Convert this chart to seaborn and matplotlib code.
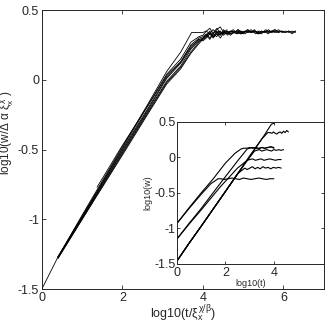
import numpy as np
import matplotlib
matplotlib.use("Agg")
import matplotlib.pyplot as plt
import seaborn as sns

# ---- main panel: rescaled curves (rise knots, then noisy plateau) ----
main_rise_x = [
    [0.0, 0.4, 1.0, 2.0, 2.6, 3.1, 3.45, 3.72, 3.9],
    [0.4, 1.0, 2.0, 2.6, 3.1, 3.45, 3.7, 3.9],
    [0.4, 1.0, 2.0, 2.6, 3.1, 3.45, 3.7, 3.9],
    [0.4, 1.0, 2.0, 2.6, 3.1, 3.45, 3.7, 3.9],
    [0.4, 1.0, 2.0, 2.6, 3.1, 3.45, 3.7, 3.9],
    [0.4, 1.0, 2.0, 2.6, 3.1, 3.45, 3.7, 3.9],
    [0.4, 1.0, 2.0, 2.6, 3.1, 3.45, 3.7, 3.9],
    [1.37, 2.0, 2.6, 3.1, 3.45, 3.7, 3.9],
]
main_rise_y = [
    [-1.5, -1.27, -0.97, -0.48, -0.19, 0.06, 0.20, 0.34, 0.34],
    [-1.27, -0.98, -0.49, -0.20, 0.04, 0.15, 0.27, 0.31],
    [-1.27, -0.98, -0.50, -0.22, 0.02, 0.13, 0.25, 0.30],
    [-1.27, -0.99, -0.51, -0.23, 0.01, 0.12, 0.23, 0.29],
    [-1.27, -0.99, -0.52, -0.24, -0.01, 0.10, 0.22, 0.28],
    [-1.28, -1.00, -0.53, -0.25, -0.02, 0.09, 0.20, 0.27],
    [-1.28, -1.00, -0.54, -0.26, -0.03, 0.08, 0.19, 0.26],
    [-0.77, -0.47, -0.20, 0.03, 0.13, 0.24, 0.29],
]
main_end = [5.0, 4.6, 5.4, 5.8, 6.3, 6.3, 6.0, 6.3]
main_plateau = [
    [0.34, 0.35, 0.33, 0.36, 0.34, 0.35, 0.33, 0.35, 0.34, 0.36, 0.34, 0.35, 0.33],
    [0.32, 0.35, 0.37, 0.33, 0.36, 0.38, 0.34, 0.36],
    [0.31, 0.33, 0.30, 0.34, 0.37, 0.33, 0.35, 0.32, 0.35, 0.34, 0.36, 0.33, 0.35,
     0.34, 0.35, 0.33, 0.35],
    [0.30, 0.32, 0.35, 0.31, 0.34, 0.32, 0.36, 0.33, 0.35, 0.34, 0.33, 0.35, 0.34,
     0.36, 0.34, 0.35, 0.33, 0.35, 0.34, 0.36, 0.34, 0.35],
    [0.29, 0.31, 0.33, 0.30, 0.33, 0.35, 0.32, 0.34, 0.33, 0.35, 0.34, 0.33, 0.35,
     0.34, 0.36, 0.34, 0.35, 0.34, 0.35, 0.33, 0.35, 0.34, 0.36, 0.34, 0.35, 0.34,
     0.35, 0.34],
    [0.30, 0.32, 0.29, 0.33, 0.31, 0.34, 0.33, 0.35, 0.32, 0.34, 0.35, 0.33, 0.34,
     0.35, 0.34, 0.36, 0.33, 0.35, 0.34, 0.35, 0.34, 0.36, 0.34, 0.35, 0.34, 0.35,
     0.33, 0.35],
    [0.29, 0.32, 0.34, 0.31, 0.33, 0.30, 0.34, 0.35, 0.33, 0.34, 0.36, 0.34, 0.33,
     0.35, 0.34, 0.35, 0.33, 0.34, 0.36, 0.34, 0.35, 0.34, 0.35, 0.34],
    [0.28, 0.30, 0.33, 0.31, 0.35, 0.32, 0.34, 0.33, 0.35, 0.34, 0.33, 0.35, 0.34,
     0.36, 0.34, 0.35, 0.34, 0.33, 0.35, 0.34, 0.35, 0.36, 0.34, 0.35, 0.34, 0.35,
     0.34, 0.35],
]

# ---- inset: raw curves (knots, then plateau) ----
inset_rise_x = [
    [0.0, 0.5, 1.0, 1.5, 2.0, 2.4, 2.65],
    [0.0, 0.5, 1.0, 1.4, 1.7],
    [0.0, 0.5, 1.0, 1.8, 2.5, 2.9],
    [0.0, 0.5, 1.0, 1.8, 2.5, 2.9],
    [0.0, 0.5, 1.0, 2.0, 3.0, 3.6, 3.9],
    [0.0, 0.5, 1.0, 2.0, 3.0, 3.5, 3.75],
    [0.0, 0.5, 1.0, 2.0, 2.8, 3.2],
    [0.0, 0.5, 1.0, 2.0, 2.5, 2.8],
]
inset_rise_y = [
    [-0.93, -0.71, -0.50, -0.30, -0.08, 0.06, 0.12],
    [-0.93, -0.72, -0.52, -0.37, -0.30],
    [-1.15, -0.93, -0.72, -0.36, -0.05, 0.12],
    [-1.15, -0.94, -0.74, -0.41, -0.15, -0.04],
    [-1.46, -1.21, -0.97, -0.48, 0.01, 0.31, 0.47],
    [-1.46, -1.21, -0.97, -0.48, 0.02, 0.26, 0.35],
    [-1.46, -1.21, -0.97, -0.48, -0.09, 0.09],
    [-1.46, -1.21, -0.97, -0.48, -0.23, -0.15],
]
inset_end = [4.0, 4.0, 4.0, 4.3, 4.0, 4.6, 4.4, 4.3]
inset_plateau = [
    [0.13, 0.13, 0.14, 0.13, 0.14, 0.13, 0.14, 0.13, 0.14, 0.15, 0.14],
    [-0.30, -0.31, -0.30, -0.29, -0.30, -0.31, -0.29, -0.30, -0.31, -0.30, -0.29,
     -0.30, -0.31, -0.30, -0.30],
    [0.13, 0.14, 0.13, 0.12, 0.14, 0.13, 0.14, 0.15, 0.13],
    [-0.03, -0.02, -0.04, -0.03, -0.02, -0.04, -0.03, -0.02, -0.03, -0.04, -0.03,
     -0.03],
    [0.48, 0.49, 0.50],
    [0.35, 0.34, 0.36, 0.34, 0.33, 0.35, 0.36, 0.34, 0.37, 0.35, 0.38, 0.36],
    [0.10, 0.11, 0.09, 0.10, 0.11, 0.10, 0.09, 0.11, 0.10, 0.11, 0.10, 0.11],
    [-0.17, -0.15, -0.13, -0.16, -0.14, -0.16, -0.13, -0.15, -0.14, -0.16, -0.14,
     -0.15, -0.14, -0.15],
]

ytick_vals = [-1.5, -1, -0.5, 0, 0.5]
ytick_labels = ["-1.5", "-1", "-0.5", "0", "0.5"]

sns.set_style("ticks")
plt.rcParams["font.family"] = ["Liberation Sans", "DejaVu Sans"]
plt.rcParams["mathtext.fontset"] = "custom"
plt.rcParams["mathtext.rm"] = "Liberation Sans"
plt.rcParams["mathtext.it"] = "Liberation Sans"

fig = plt.figure(figsize=(3.27, 3.27), dpi=100)
ax = fig.add_axes([0.128, 0.116, 0.862, 0.853])

for rx, ry, pl, xe in zip(main_rise_x, main_rise_y, main_plateau, main_end):
    px = np.linspace(4.0, xe, len(pl))
    xs = list(rx) + list(px)
    ys = list(ry) + list(pl)
    sns.lineplot(x=xs, y=ys, ax=ax, color="k", lw=0.6, sort=False, estimator=None)

ax.set_xlim(0, 7)
ax.set_ylim(-1.5, 0.5)
ax.set_xticks([0, 2, 4, 6])
ax.set_yticks(ytick_vals)
ax.set_yticklabels(ytick_labels)
ax.tick_params(direction="in", top=True, right=True, length=3, width=0.6,
               labelsize=9, pad=2)
for s in ax.spines.values():
    s.set_linewidth(0.7)
ax.set_xlabel(r"log10(t/$\xi_x^{\chi/\beta}$)", fontsize=9, labelpad=0)
ax.set_ylabel(r"log10(w/$\Delta$ $\alpha$ $\xi_x^{\chi}$ )", fontsize=8.5)
ax.yaxis.set_label_coords(-0.092, 0.56)

ins = fig.add_axes([0.541, 0.193, 0.450, 0.434])
for rx, ry, pl, xe in zip(inset_rise_x, inset_rise_y, inset_plateau, inset_end):
    px = np.linspace(rx[-1] + 0.1, xe, len(pl))
    xs = list(rx) + list(px)
    ys = list(ry) + list(pl)
    sns.lineplot(x=xs, y=ys, ax=ins, color="k", lw=0.8, sort=False, estimator=None)

ins.set_xlim(0, 6.07)
ins.set_ylim(-1.5, 0.5)
ins.set_xticks([0, 2, 4])
ins.set_yticks(ytick_vals)
ins.set_yticklabels(ytick_labels)
ins.tick_params(direction="in", top=True, right=True, length=2.5, width=0.6,
                labelsize=9, pad=1)
ins.tick_params(axis="x", pad=2.5)
for s in ins.spines.values():
    s.set_linewidth(0.7)
ins.set_xlabel("log10(t)", fontsize=6.5, labelpad=0)
ins.set_ylabel("log10(w)", fontsize=6.5)
ins.yaxis.set_label_coords(-0.17, 0.5)

fig.savefig("out.png", dpi=100)
